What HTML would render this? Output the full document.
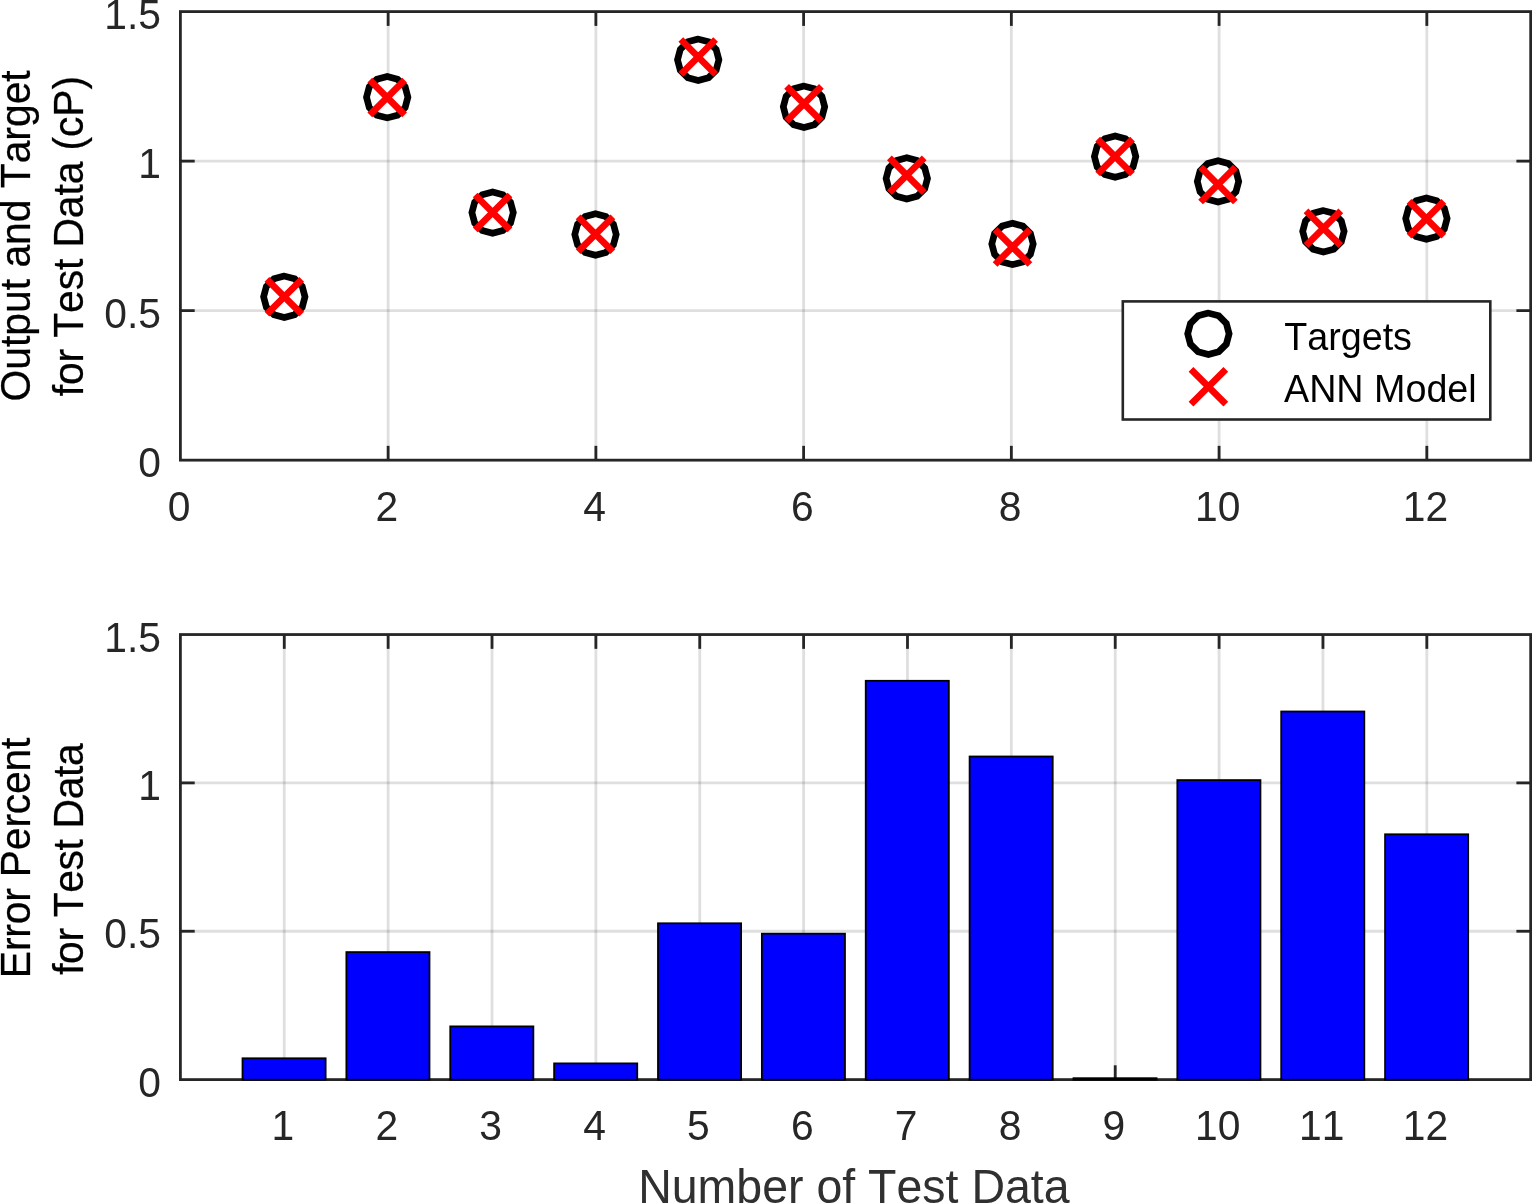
<!DOCTYPE html>
<html lang="en"><head><meta charset="utf-8"><title>ANN Model Test Data</title>
<style>
html,body{margin:0;padding:0;background:#fff;}
body{width:1532px;height:1204px;overflow:hidden;}
svg{display:block;}
text{font-family:"Liberation Sans",Arial,Helvetica,sans-serif;font-kerning:none;}
.tk{font-size:40.8px;fill:#262626;}
.yl{font-size:40.8px;fill:#000;stroke:#000;stroke-width:0.25px;}
.lg{font-size:37.7px;fill:#000;}
.xl{font-size:46.5px;fill:#303030;}
</style></head><body>
<svg width="1532" height="1204" viewBox="0 0 1532 1204">
<rect x="0" y="0" width="1532" height="1204" fill="#fff"/>
<g fill="none" stroke-linecap="butt">
<g stroke="rgba(38,38,38,0.15)" stroke-width="2.8">
<line x1="388.14" y1="11.6" x2="388.14" y2="460.15"/>
<line x1="595.88" y1="11.6" x2="595.88" y2="460.15"/>
<line x1="803.62" y1="11.6" x2="803.62" y2="460.15"/>
<line x1="1011.35" y1="11.6" x2="1011.35" y2="460.15"/>
<line x1="1219.09" y1="11.6" x2="1219.09" y2="460.15"/>
<line x1="1426.83" y1="11.6" x2="1426.83" y2="460.15"/>
<line x1="180.4" y1="310.63" x2="1530.7" y2="310.63"/>
<line x1="180.4" y1="161.12" x2="1530.7" y2="161.12"/>
</g>
<g stroke="#262626" stroke-width="2.8">
<line x1="388.14" y1="460.15" x2="388.14" y2="445.84999999999997"/>
<line x1="388.14" y1="11.6" x2="388.14" y2="25.9"/>
<line x1="595.88" y1="460.15" x2="595.88" y2="445.84999999999997"/>
<line x1="595.88" y1="11.6" x2="595.88" y2="25.9"/>
<line x1="803.62" y1="460.15" x2="803.62" y2="445.84999999999997"/>
<line x1="803.62" y1="11.6" x2="803.62" y2="25.9"/>
<line x1="1011.35" y1="460.15" x2="1011.35" y2="445.84999999999997"/>
<line x1="1011.35" y1="11.6" x2="1011.35" y2="25.9"/>
<line x1="1219.09" y1="460.15" x2="1219.09" y2="445.84999999999997"/>
<line x1="1219.09" y1="11.6" x2="1219.09" y2="25.9"/>
<line x1="1426.83" y1="460.15" x2="1426.83" y2="445.84999999999997"/>
<line x1="1426.83" y1="11.6" x2="1426.83" y2="25.9"/>
<line x1="180.4" y1="310.63" x2="194.70000000000002" y2="310.63"/>
<line x1="1530.7" y1="310.63" x2="1516.4" y2="310.63"/>
<line x1="180.4" y1="161.12" x2="194.70000000000002" y2="161.12"/>
<line x1="1530.7" y1="161.12" x2="1516.4" y2="161.12"/>
</g></g>
<rect x="180.4" y="11.6" width="1350.30" height="448.55" fill="none" stroke="#262626" stroke-width="2.8"/>
<g fill="#fff" stroke="#000" stroke-width="6.7" stroke-linejoin="miter">
<polygon points="284.30,276.10 273.95,278.87 266.37,286.45 263.60,296.80 266.37,307.15 273.95,314.73 284.30,317.50 294.65,314.73 302.23,307.15 305.00,296.80 302.23,286.45 294.65,278.87"/>
<polygon points="387.20,76.50 376.85,79.27 369.27,86.85 366.50,97.20 369.27,107.55 376.85,115.13 387.20,117.90 397.55,115.13 405.13,107.55 407.90,97.20 405.13,86.85 397.55,79.27"/>
<polygon points="492.60,191.90 482.25,194.67 474.67,202.25 471.90,212.60 474.67,222.95 482.25,230.53 492.60,233.30 502.95,230.53 510.53,222.95 513.30,212.60 510.53,202.25 502.95,194.67"/>
<polygon points="595.50,213.80 585.15,216.57 577.57,224.15 574.80,234.50 577.57,244.85 585.15,252.43 595.50,255.20 605.85,252.43 613.43,244.85 616.20,234.50 613.43,224.15 605.85,216.57"/>
<polygon points="698.20,39.10 687.85,41.87 680.27,49.45 677.50,59.80 680.27,70.15 687.85,77.73 698.20,80.50 708.55,77.73 716.13,70.15 718.90,59.80 716.13,49.45 708.55,41.87"/>
<polygon points="804.00,86.10 793.65,88.87 786.07,96.45 783.30,106.80 786.07,117.15 793.65,124.73 804.00,127.50 814.35,124.73 821.93,117.15 824.70,106.80 821.93,96.45 814.35,88.87"/>
<polygon points="906.80,157.70 896.45,160.47 888.87,168.05 886.10,178.40 888.87,188.75 896.45,196.33 906.80,199.10 917.15,196.33 924.73,188.75 927.50,178.40 924.73,168.05 917.15,160.47"/>
<polygon points="1012.50,223.25 1002.15,226.02 994.57,233.60 991.80,243.95 994.57,254.30 1002.15,261.88 1012.50,264.65 1022.85,261.88 1030.43,254.30 1033.20,243.95 1030.43,233.60 1022.85,226.02"/>
<polygon points="1115.10,135.90 1104.75,138.67 1097.17,146.25 1094.40,156.60 1097.17,166.95 1104.75,174.53 1115.10,177.30 1125.45,174.53 1133.03,166.95 1135.80,156.60 1133.03,146.25 1125.45,138.67"/>
<polygon points="1218.00,160.70 1207.65,163.47 1200.07,171.05 1197.30,181.40 1200.07,191.75 1207.65,199.33 1218.00,202.10 1228.35,199.33 1235.93,191.75 1238.70,181.40 1235.93,171.05 1228.35,163.47"/>
<polygon points="1323.40,210.60 1313.05,213.37 1305.47,220.95 1302.70,231.30 1305.47,241.65 1313.05,249.23 1323.40,252.00 1333.75,249.23 1341.33,241.65 1344.10,231.30 1341.33,220.95 1333.75,213.37"/>
<polygon points="1426.40,197.90 1416.05,200.67 1408.47,208.25 1405.70,218.60 1408.47,228.95 1416.05,236.53 1426.40,239.30 1436.75,236.53 1444.33,228.95 1447.10,218.60 1444.33,208.25 1436.75,200.67"/>
</g>
<g fill="none" stroke="#f00" stroke-width="6.7" stroke-linecap="butt">
<path d="M266.90 279.40L301.70 314.20M266.90 314.20L301.70 279.40"/>
<path d="M369.80 80.10L404.60 114.90M369.80 114.90L404.60 80.10"/>
<path d="M475.20 195.00L510.00 229.80M475.20 229.80L510.00 195.00"/>
<path d="M578.10 216.80L612.90 251.60M578.10 251.60L612.90 216.80"/>
<path d="M680.80 39.50L715.60 74.30M680.80 74.30L715.60 39.50"/>
<path d="M786.60 86.30L821.40 121.10M786.60 121.10L821.40 86.30"/>
<path d="M889.40 157.80L924.20 192.60M889.40 192.60L924.20 157.80"/>
<path d="M995.10 229.70L1029.90 264.50M995.10 264.50L1029.90 229.70"/>
<path d="M1097.70 139.20L1132.50 174.00M1097.70 174.00L1132.50 139.20"/>
<path d="M1200.60 167.20L1235.40 202.00M1200.60 202.00L1235.40 167.20"/>
<path d="M1306.00 210.80L1340.80 245.60M1306.00 245.60L1340.80 210.80"/>
<path d="M1409.00 201.40L1443.80 236.20M1409.00 236.20L1443.80 201.40"/>
</g>
<rect x="1122.8" y="301.4" width="367.50" height="118.10" fill="#fff" stroke="#262626" stroke-width="2.6"/>
<g fill="none" stroke="#000" stroke-width="6.7" stroke-linejoin="miter"><polygon points="1208.40,313.10 1198.05,315.87 1190.47,323.45 1187.70,333.80 1190.47,344.15 1198.05,351.73 1208.40,354.50 1218.75,351.73 1226.33,344.15 1229.10,333.80 1226.33,323.45 1218.75,315.87"/></g>
<g fill="none" stroke="#f00" stroke-width="6.7"><path d="M1191.00 369.30L1225.80 404.10M1191.00 404.10L1225.80 369.30"/></g>
<g class="lg"><text transform="translate(1284.2,350.2) scale(1,1.02)">Targets</text><text transform="translate(1284.0,402.1) scale(1,1.02)">ANN Model</text></g>
<g class="tk">
<text transform="translate(179.10,520.85) scale(1,1.04)" text-anchor="middle">0</text>
<text transform="translate(386.84,520.85) scale(1,1.04)" text-anchor="middle">2</text>
<text transform="translate(594.58,520.85) scale(1,1.04)" text-anchor="middle">4</text>
<text transform="translate(802.32,520.85) scale(1,1.04)" text-anchor="middle">6</text>
<text transform="translate(1010.05,520.85) scale(1,1.04)" text-anchor="middle">8</text>
<text transform="translate(1217.79,520.85) scale(1,1.04)" text-anchor="middle">10</text>
<text transform="translate(1425.53,520.85) scale(1,1.04)" text-anchor="middle">12</text>
<text transform="translate(160.9,477.35) scale(1,1.04)" text-anchor="end">0</text>
<text transform="translate(160.9,327.83) scale(1,1.04)" text-anchor="end">0.5</text>
<text transform="translate(160.9,178.32) scale(1,1.04)" text-anchor="end">1</text>
<text transform="translate(160.9,28.80) scale(1,1.04)" text-anchor="end">1.5</text>
</g>
<g class="yl" text-anchor="middle">
<text transform="translate(29.7,235.88) rotate(-90) scale(1,1.02)" x="0" y="0" textLength="331.1" lengthAdjust="spacing">Output and Target</text>
<text transform="translate(82.6,236.18) rotate(-90) scale(1,1.02)" x="0" y="0" textLength="320.4" lengthAdjust="spacing">for Test Data (cP)</text>
</g>
<g fill="none" stroke-linecap="butt">
<g stroke="rgba(38,38,38,0.15)" stroke-width="2.8">
<line x1="284.27" y1="634.55" x2="284.27" y2="1079.6"/>
<line x1="388.14" y1="634.55" x2="388.14" y2="1079.6"/>
<line x1="492.01" y1="634.55" x2="492.01" y2="1079.6"/>
<line x1="595.88" y1="634.55" x2="595.88" y2="1079.6"/>
<line x1="699.75" y1="634.55" x2="699.75" y2="1079.6"/>
<line x1="803.62" y1="634.55" x2="803.62" y2="1079.6"/>
<line x1="907.48" y1="634.55" x2="907.48" y2="1079.6"/>
<line x1="1011.35" y1="634.55" x2="1011.35" y2="1079.6"/>
<line x1="1115.22" y1="634.55" x2="1115.22" y2="1079.6"/>
<line x1="1219.09" y1="634.55" x2="1219.09" y2="1079.6"/>
<line x1="1322.96" y1="634.55" x2="1322.96" y2="1079.6"/>
<line x1="1426.83" y1="634.55" x2="1426.83" y2="1079.6"/>
<line x1="180.4" y1="931.25" x2="1530.7" y2="931.25"/>
<line x1="180.4" y1="782.90" x2="1530.7" y2="782.90"/>
</g>
<g stroke="#262626" stroke-width="2.8">
<line x1="284.27" y1="1079.6" x2="284.27" y2="1065.3"/>
<line x1="284.27" y1="634.55" x2="284.27" y2="648.8499999999999"/>
<line x1="388.14" y1="1079.6" x2="388.14" y2="1065.3"/>
<line x1="388.14" y1="634.55" x2="388.14" y2="648.8499999999999"/>
<line x1="492.01" y1="1079.6" x2="492.01" y2="1065.3"/>
<line x1="492.01" y1="634.55" x2="492.01" y2="648.8499999999999"/>
<line x1="595.88" y1="1079.6" x2="595.88" y2="1065.3"/>
<line x1="595.88" y1="634.55" x2="595.88" y2="648.8499999999999"/>
<line x1="699.75" y1="1079.6" x2="699.75" y2="1065.3"/>
<line x1="699.75" y1="634.55" x2="699.75" y2="648.8499999999999"/>
<line x1="803.62" y1="1079.6" x2="803.62" y2="1065.3"/>
<line x1="803.62" y1="634.55" x2="803.62" y2="648.8499999999999"/>
<line x1="907.48" y1="1079.6" x2="907.48" y2="1065.3"/>
<line x1="907.48" y1="634.55" x2="907.48" y2="648.8499999999999"/>
<line x1="1011.35" y1="1079.6" x2="1011.35" y2="1065.3"/>
<line x1="1011.35" y1="634.55" x2="1011.35" y2="648.8499999999999"/>
<line x1="1115.22" y1="1079.6" x2="1115.22" y2="1065.3"/>
<line x1="1115.22" y1="634.55" x2="1115.22" y2="648.8499999999999"/>
<line x1="1219.09" y1="1079.6" x2="1219.09" y2="1065.3"/>
<line x1="1219.09" y1="634.55" x2="1219.09" y2="648.8499999999999"/>
<line x1="1322.96" y1="1079.6" x2="1322.96" y2="1065.3"/>
<line x1="1322.96" y1="634.55" x2="1322.96" y2="648.8499999999999"/>
<line x1="1426.83" y1="1079.6" x2="1426.83" y2="1065.3"/>
<line x1="1426.83" y1="634.55" x2="1426.83" y2="648.8499999999999"/>
<line x1="180.4" y1="931.25" x2="194.70000000000002" y2="931.25"/>
<line x1="1530.7" y1="931.25" x2="1516.4" y2="931.25"/>
<line x1="180.4" y1="782.90" x2="194.70000000000002" y2="782.90"/>
<line x1="1530.7" y1="782.90" x2="1516.4" y2="782.90"/>
</g></g>
<rect x="180.4" y="634.55" width="1350.30" height="445.05" fill="none" stroke="#262626" stroke-width="2.8"/>
<g fill="#0000ff" stroke="#000" stroke-width="1.8" stroke-linejoin="miter">
<rect x="242.52" y="1058.30" width="83.10" height="21.45"/>
<rect x="346.39" y="952.10" width="83.10" height="127.65"/>
<rect x="450.26" y="1026.40" width="83.10" height="53.35"/>
<rect x="554.13" y="1063.40" width="83.10" height="16.35"/>
<rect x="658.00" y="923.30" width="83.10" height="156.45"/>
<rect x="761.87" y="933.70" width="83.10" height="146.05"/>
<rect x="865.74" y="680.80" width="83.10" height="398.95"/>
<rect x="969.61" y="756.50" width="83.10" height="323.25"/>
<rect x="1073.48" y="1078.20" width="83.10" height="1.55"/>
<rect x="1177.34" y="780.10" width="83.10" height="299.65"/>
<rect x="1281.21" y="711.50" width="83.10" height="368.25"/>
<rect x="1385.08" y="834.30" width="83.10" height="245.45"/>
</g>
<g class="tk">
<text transform="translate(282.97,1140.30) scale(1,1.04)" text-anchor="middle">1</text>
<text transform="translate(386.84,1140.30) scale(1,1.04)" text-anchor="middle">2</text>
<text transform="translate(490.71,1140.30) scale(1,1.04)" text-anchor="middle">3</text>
<text transform="translate(594.58,1140.30) scale(1,1.04)" text-anchor="middle">4</text>
<text transform="translate(698.45,1140.30) scale(1,1.04)" text-anchor="middle">5</text>
<text transform="translate(802.32,1140.30) scale(1,1.04)" text-anchor="middle">6</text>
<text transform="translate(906.18,1140.30) scale(1,1.04)" text-anchor="middle">7</text>
<text transform="translate(1010.05,1140.30) scale(1,1.04)" text-anchor="middle">8</text>
<text transform="translate(1113.92,1140.30) scale(1,1.04)" text-anchor="middle">9</text>
<text transform="translate(1217.79,1140.30) scale(1,1.04)" text-anchor="middle">10</text>
<text transform="translate(1321.66,1140.30) scale(1,1.04)" text-anchor="middle">11</text>
<text transform="translate(1425.53,1140.30) scale(1,1.04)" text-anchor="middle">12</text>
<text transform="translate(160.9,1096.80) scale(1,1.04)" text-anchor="end">0</text>
<text transform="translate(160.9,948.45) scale(1,1.04)" text-anchor="end">0.5</text>
<text transform="translate(160.9,800.10) scale(1,1.04)" text-anchor="end">1</text>
<text transform="translate(160.9,651.75) scale(1,1.04)" text-anchor="end">1.5</text>
</g>
<g class="yl" text-anchor="middle">
<text transform="translate(29.7,857.87) rotate(-90) scale(1,1.02)" x="0" y="0" textLength="240.6" lengthAdjust="spacing">Error Percent</text>
<text transform="translate(82.6,859.07) rotate(-90) scale(1,1.02)" x="0" y="0" textLength="231.6" lengthAdjust="spacing">for Test Data</text>
</g>
<text class="xl" transform="translate(853.85,1203.4) scale(1,1.02)" text-anchor="middle">Number of Test Data</text>
</svg></body></html>
